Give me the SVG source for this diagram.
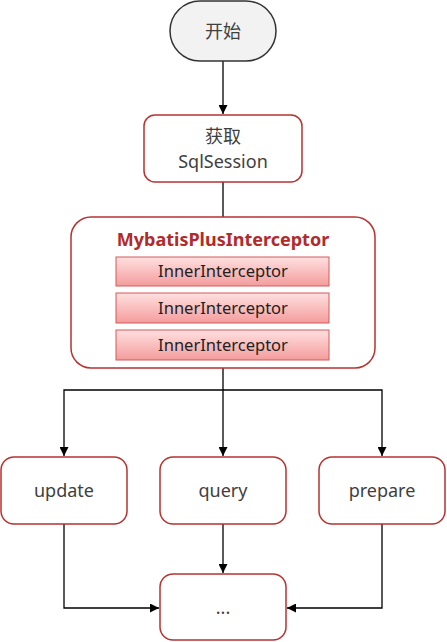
<svg xmlns="http://www.w3.org/2000/svg" width="447" height="642" viewBox="0 0 447 642">
<style>
.node{fill:#ffffff;stroke:#b83232;stroke-width:1.5}
.lbl{font-family:"Noto Sans","Noto Sans CJK SC",sans-serif;font-size:18px;fill:#404040;text-anchor:middle}
.inner{fill:url(#g);stroke:#d45a5a;stroke-width:1}
.ilbl{font-family:"Noto Sans","Noto Sans CJK SC",sans-serif;font-size:16.5px;fill:#222222;text-anchor:middle}
.edge{fill:none;stroke:#000000;stroke-width:1.3}
</style>
<defs>
<linearGradient id="g" x1="0" y1="0" x2="0" y2="1">
<stop offset="0" stop-color="#ffe0e0"/>
<stop offset="1" stop-color="#f49c9c"/>
</linearGradient>
<marker id="ah" viewBox="0 0 10 10" refX="10" refY="5" markerWidth="9" markerHeight="9" markerUnits="userSpaceOnUse" orient="auto">
<path d="M0,0 L10,5 L0,10 z" fill="#000000"/>
</marker>
</defs>
<g id="connectors">
<path class="edge" d="M223,61 V114" marker-end="url(#ah)"/>
<path class="edge" d="M223,182 V217"/>
<path class="edge" d="M223,368 V456" marker-end="url(#ah)"/>
<path class="edge" d="M223,390 H64 V456" marker-end="url(#ah)"/>
<path class="edge" d="M223,390 H382 V456" marker-end="url(#ah)"/>
<path class="edge" d="M223,524 V573" marker-end="url(#ah)"/>
<path class="edge" d="M64,524 V608 H159" marker-end="url(#ah)"/>
<path class="edge" d="M382,524 V608 H287" marker-end="url(#ah)"/>
</g>
<g id="start">
<rect x="170" y="1" width="106" height="60" rx="30" fill="#f2f2f2" stroke="#333333" stroke-width="1.5"/>
<text class="lbl" x="223" y="38">开始</text>
</g>
<g id="sqlsession">
<rect class="node" x="144" y="115" width="158" height="67" rx="11"/>
<text class="lbl" x="223" y="143">获取</text>
<text class="lbl" x="223" y="168">SqlSession</text>
</g>
<g id="interceptor">
<rect class="node" x="71" y="217" width="304" height="151" rx="20"/>
<text x="223" y="246" font-family="'Noto Sans',sans-serif" font-size="18" font-weight="bold" fill="#b22a2a" text-anchor="middle">MybatisPlusInterceptor</text>
</g>
<g id="inner1">
<rect class="inner" x="116" y="257" width="213" height="29"/>
<text class="ilbl" x="223" y="277">InnerInterceptor</text>
</g>
<g id="inner2">
<rect class="inner" x="116" y="293" width="213" height="30"/>
<text class="ilbl" x="223" y="314">InnerInterceptor</text>
</g>
<g id="inner3">
<rect class="inner" x="116" y="330" width="213" height="30"/>
<text class="ilbl" x="223" y="351">InnerInterceptor</text>
</g>
<g id="update">
<rect class="node" x="1" y="457" width="126" height="67" rx="13"/>
<text class="lbl" x="64" y="497">update</text>
</g>
<g id="query">
<rect class="node" x="160" y="457" width="126" height="67" rx="13"/>
<text class="lbl" x="223" y="497">query</text>
</g>
<g id="prepare">
<rect class="node" x="319" y="457" width="126" height="67" rx="13"/>
<text class="lbl" x="382" y="497">prepare</text>
</g>
<g id="more">
<rect class="node" x="160" y="574" width="126" height="66" rx="13"/>
<text class="lbl" x="223" y="614">...</text>
</g>
</svg>
